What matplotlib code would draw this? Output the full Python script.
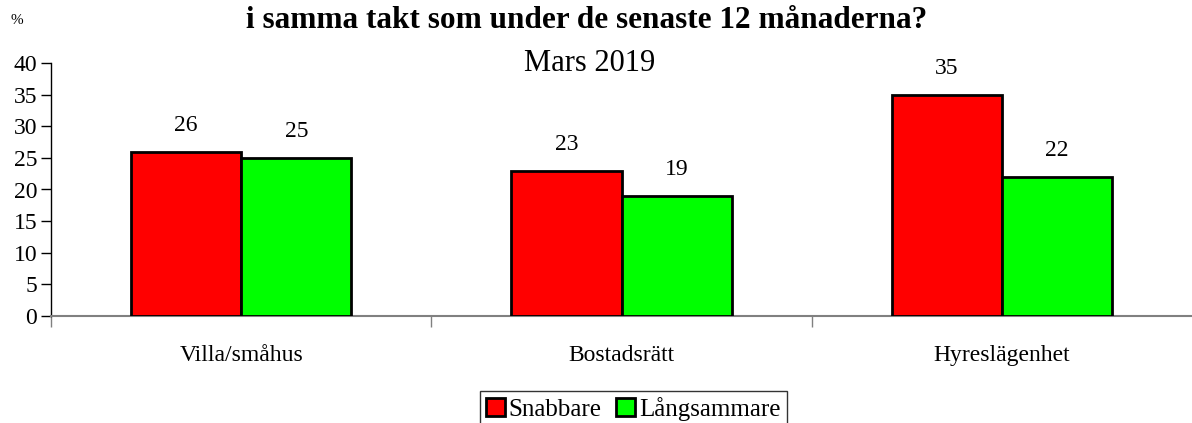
import matplotlib.pyplot as plt
import numpy as np

categories = ["Villa/småhus", "Bostadsrätt", "Hyreslägenhet"]
snabbare = [26, 23, 35]
langsammare = [25, 19, 22]
series_names = ["Snabbare", "Långsammare"]

plt.rcParams["font.family"] = ["Liberation Serif", "DejaVu Serif"]

fig = plt.figure(figsize=(11.92, 4.23), dpi=100)
ax = fig.add_axes([51 / 1192, 1 - 316 / 423, 1 - 51 / 1192, (316 - 63) / 423])

x = np.arange(len(categories))
w = 0.29
ax.bar(x - w / 2, snabbare, w, color="#ff0000", edgecolor="black", linewidth=2, label=series_names[0], zorder=3)
ax.bar(x + w / 2, langsammare, w, color="#00ff00", edgecolor="black", linewidth=2, label=series_names[1], zorder=3)

for xi, v in zip(x - w / 2, snabbare):
    ax.text(xi, v + 2.5, str(v), ha="center", va="bottom", fontsize=17)
for xi, v in zip(x + w / 2, langsammare):
    ax.text(xi, v + 2.5, str(v), ha="center", va="bottom", fontsize=17)

ax.set_xlim(-0.5, 2.5)
ax.set_ylim(0, 40)
ax.set_yticks(range(0, 41, 5))
ax.tick_params(axis="y", labelsize=17, length=7, width=1, pad=3)

ax.set_xticks(np.arange(-0.5, 2.5, 1.0))
ax.set_xticklabels([])
ax.tick_params(axis="x", length=8, width=1, color="gray", direction="out")
for xi, cat in zip(x, categories):
    ax.text(xi, -6.2, cat, ha="center", va="center", fontsize=17)

for side in ["top", "right"]:
    ax.spines[side].set_visible(False)
ax.spines["bottom"].set_color("gray")
ax.spines["bottom"].set_linewidth(1.5)
ax.spines["left"].set_linewidth(1)

# title sits partly above the image edge in the original
fig.text(587 / 1192, 1 - 28 / 423, "i samma takt som under de senaste 12 månaderna?",
         ha="center", va="baseline", fontsize=22.5, fontweight="bold")
fig.text(590 / 1192, 1 - 71 / 423, "Mars 2019", ha="center", va="baseline", fontsize=22)
fig.text(17 / 1192, 1 - 20 / 423, "%", ha="center", va="center", fontsize=11)

leg = fig.legend(loc="center", bbox_to_anchor=(633 / 1192, 1 - 409 / 423), ncol=2,
                 fontsize=18, frameon=True, fancybox=False, handlelength=0.75, handleheight=0.75,
                 handletextpad=0.15, columnspacing=0.6, borderpad=0.25)
leg.get_frame().set_edgecolor("black")
leg.get_frame().set_linewidth(1)

fig.savefig("out.png", dpi=100)
